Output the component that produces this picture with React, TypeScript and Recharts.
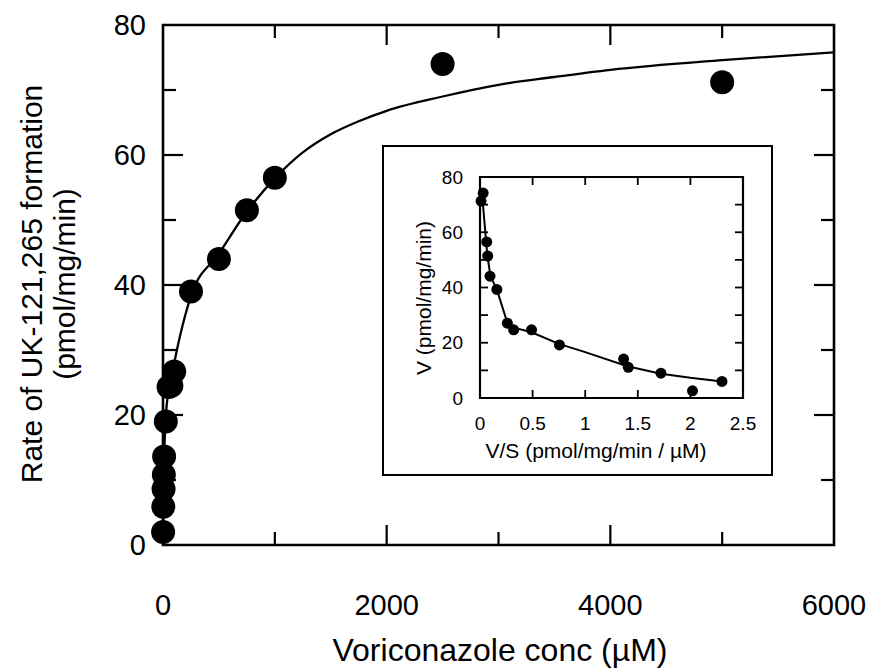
import React from 'react';
import { ComposedChart, Scatter, Line, XAxis, YAxis, ReferenceArea } from 'recharts';

// ---- Main plot data (Voriconazole conc µM vs rate pmol/mg/min) ----
const concValues = [1, 2.5, 5, 7.5, 10, 25, 50, 75, 100, 250, 500, 750, 1000, 2500, 5000];
const rateValues = [2.0, 5.9, 8.6, 10.8, 13.6, 19.0, 24.3, 24.5, 26.7, 39.0, 44.0, 51.5, 56.5, 74.0, 71.2];

// fitted curve
const curveConc = [0, 2.5, 5, 10, 25, 50, 100, 150, 250, 500, 750, 1000, 1250, 1500, 1750, 2000, 2500, 3000, 3500, 4000, 5000, 6000];
const curveRate = [0, 5.5, 8.8, 13.2, 19.6, 23.8, 28.0, 32.0, 38.3, 44.8, 51.3, 56.4, 60.4, 63.2, 65.2, 66.8, 69.0, 70.8, 72.0, 73.1, 74.6, 75.8];

const mainXTicks = [0, 1000, 2000, 3000, 4000, 5000, 6000];
const mainXLabels = [0, 2000, 4000, 6000];
const mainYTicks = [0, 10, 20, 30, 40, 50, 60, 70, 80];
const mainYLabels = [0, 20, 40, 60, 80];

// ---- Inset data (Eadie-Hofstee: V vs V/S) ----
const insetVS = [0.01, 0.03, 0.064, 0.073, 0.095, 0.16, 0.26, 0.32, 0.49, 0.755, 1.365, 1.41, 1.72, 2.02, 2.3];
const insetV = [71.3, 74.2, 56.5, 51.4, 44.1, 39.3, 27.1, 24.7, 24.7, 19.2, 14.1, 11.1, 9.0, 2.6, 6.0];

const insetLineVS = [0.02, 0.07, 0.1, 0.16, 0.26, 0.35, 0.49, 0.75, 1.0, 1.4, 1.72, 2.0, 2.3];
const insetLineV = [73.5, 51.5, 44.0, 39.3, 27.2, 25.2, 23.8, 19.6, 16.6, 11.5, 8.8, 7.3, 6.0];

const insetXTicks = [0, 0.5, 1, 1.5, 2, 2.5];
const insetXLabels = ['0', '0.5', '1', '1.5', '2', '2.5'];
const insetYTicks = [0, 10, 20, 30, 40, 50, 60, 70, 80];
const insetYLabels = [0, 20, 40, 60, 80];

const mainPoints = concValues.map((s, i) => ({ s, v: rateValues[i] }));
const curvePoints = curveConc.map((s, i) => ({ s, v: curveRate[i] }));
const insetPoints = insetVS.map((s, i) => ({ s, v: insetV[i] }));
const insetLinePoints = insetLineVS.map((s, i) => ({ s, v: insetLineV[i] }));

const FONT = '"Liberation Sans", Arial, Helvetica, sans-serif';
const MAIN_TICK_FS = 29;
const MAIN_TITLE_FS = 30;
const X_TITLE_FS = 32;
const INSET_TICK_FS = 19;
const INSET_TITLE_FS = 21;

// layout of the main plot area
const M = { top: 25, right: 37, bottom: 66, left: 103 };
const W = 871;
const H = 671;
const X_AXIS_H = 60;
const Y_AXIS_W = 60;
const PLOT_W = W - M.left - M.right - Y_AXIS_W; // 671
const PLOT_H = H - M.top - M.bottom - X_AXIS_H; // 520

// layout of the inset
const IW = 387;
const IH = 327;
const IM = { top: 30, right: 28, bottom: 36, left: 56 };
const I_X_AXIS_H = 40;
const I_Y_AXIS_W = 40;
const I_PLOT_W = IW - IM.left - IM.right - I_Y_AXIS_W;
const I_PLOT_H = IH - IM.top - IM.bottom - I_X_AXIS_H;

const MAJOR = 20;
const MINOR = 13;
const SW = 2.2;

const mainBottomTick = (p: any) => {
  const v = p.payload.value;
  const major = mainXLabels.includes(v);
  const len = major ? MAJOR : MINOR;
  const inner = v !== 0 && v !== 6000;
  return (
    <g>
      {inner && <line x1={p.x} x2={p.x} y1={p.y} y2={p.y - len} stroke="#000" strokeWidth={SW} />}
      {inner && <line x1={p.x} x2={p.x} y1={p.y - PLOT_H} y2={p.y - PLOT_H + len} stroke="#000" strokeWidth={SW} />}
      {major && (
        <text x={p.x} y={p.y + 60} textAnchor="middle" dominantBaseline="central" fontFamily={FONT} fontSize={MAIN_TICK_FS} fill="#000">
          {v}
        </text>
      )}
    </g>
  );
};
const mainLeftTick = (p: any) => {
  const v = p.payload.value;
  const major = mainYLabels.includes(v);
  const len = major ? MAJOR : MINOR;
  const inner = v !== 0 && v !== 80;
  return (
    <g>
      {inner && <line x1={p.x} x2={p.x + len} y1={p.y} y2={p.y} stroke="#000" strokeWidth={SW} />}
      {inner && <line x1={p.x + PLOT_W} x2={p.x + PLOT_W - len} y1={p.y} y2={p.y} stroke="#000" strokeWidth={SW} />}
      {major && (
        <text x={p.x - 17} y={p.y} textAnchor="end" dominantBaseline="central" fontFamily={FONT} fontSize={MAIN_TICK_FS} fill="#000">
          {v}
        </text>
      )}
    </g>
  );
};

const IT = 8;
const ISW = 1.8;
const insetBottomTick = (p: any) => {
  const v = p.payload.value;
  const idx = insetXTicks.indexOf(v);
  const inner = v !== 0 && v !== 2.5;
  return (
    <g>
      {inner && <line x1={p.x} x2={p.x} y1={p.y} y2={p.y - IT} stroke="#000" strokeWidth={ISW} />}
      {inner && <line x1={p.x} x2={p.x} y1={p.y - I_PLOT_H} y2={p.y - I_PLOT_H + IT} stroke="#000" strokeWidth={ISW} />}
      <text x={p.x} y={p.y + 25} textAnchor="middle" dominantBaseline="central" fontFamily={FONT} fontSize={INSET_TICK_FS} fill="#000">
        {insetXLabels[idx]}
      </text>
    </g>
  );
};
const insetLeftTick = (p: any) => {
  const v = p.payload.value;
  const major = insetYLabels.includes(v);
  const inner = v !== 0 && v !== 80;
  return (
    <g>
      {inner && <line x1={p.x} x2={p.x + IT} y1={p.y} y2={p.y} stroke="#000" strokeWidth={ISW} />}
      {inner && <line x1={p.x + I_PLOT_W} x2={p.x + I_PLOT_W - IT} y1={p.y} y2={p.y} stroke="#000" strokeWidth={ISW} />}
      {major && (
        <text x={p.x - 17} y={p.y} textAnchor="end" dominantBaseline="central" fontFamily={FONT} fontSize={INSET_TICK_FS} fill="#000">
          {v}
        </text>
      )}
    </g>
  );
};

const mainDot = (p: any) => <circle cx={p.cx} cy={p.cy} r={12} fill="#000" />;
const insetDot = (p: any) => <circle cx={p.cx} cy={p.cy} r={5.5} fill="#000" />;

export default function App() {
  return (
    <div style={{ position: 'absolute', left: 0, top: 0, width: W, height: H, background: '#fff', overflow: 'hidden' }}>
      <ComposedChart width={W} height={H} margin={M}>
        <XAxis
          dataKey="s"
          type="number"
          domain={[0, 6000]}
          ticks={mainXTicks}
          height={X_AXIS_H}
          tickSize={0}
          tickMargin={0}
          tickLine={false}
          tick={mainBottomTick}
          axisLine={false}
          interval={0}
        />
        <YAxis
          dataKey="v"
          type="number"
          domain={[0, 80]}
          ticks={mainYTicks}
          width={Y_AXIS_W}
          tickSize={0}
          tickMargin={0}
          tickLine={false}
          tick={mainLeftTick}
          axisLine={false}
          interval={0}
        />
        <ReferenceArea x1={0} x2={6000} y1={0} y2={80} fill="none" stroke="#000" strokeWidth={2.6} ifOverflow="visible" />
        <Line
          data={curvePoints}
          dataKey="v"
          type="monotone"
          stroke="#000"
          strokeWidth={2.3}
          dot={false}
          activeDot={false}
          isAnimationActive={false}
        />
        <Scatter data={mainPoints} dataKey="v" shape={mainDot} isAnimationActive={false} />
      </ComposedChart>

      <svg width={W} height={H} style={{ position: 'absolute', left: 0, top: 0, pointerEvents: 'none' }}>
        <text x={500} y={650} textAnchor="middle" dominantBaseline="central" fontFamily={FONT} fontSize={X_TITLE_FS} fill="#000">
          Voriconazole conc (µM)
        </text>
        <text transform="translate(31,284) rotate(-90)" textAnchor="middle" dominantBaseline="central" fontFamily={FONT} fontSize={MAIN_TITLE_FS} fill="#000">
          Rate of UK-121,265 formation
        </text>
        <text transform="translate(64,284) rotate(-90)" textAnchor="middle" dominantBaseline="central" fontFamily={FONT} fontSize={MAIN_TITLE_FS} fill="#000">
          (pmol/mg/min)
        </text>
      </svg>

      <div
        style={{
          position: 'absolute',
          left: 382,
          top: 145,
          width: IW,
          height: IH,
          border: '2px solid #000',
          background: '#fff',
        }}
      >
        <ComposedChart width={IW} height={IH} margin={IM}>
          <XAxis
            dataKey="s"
            type="number"
            domain={[0, 2.5]}
            ticks={insetXTicks}
            height={I_X_AXIS_H}
            tickSize={0}
            tickMargin={0}
            tickLine={false}
            tick={insetBottomTick}
            axisLine={false}
            interval={0}
          />
          <YAxis
            dataKey="v"
            type="number"
            domain={[0, 80]}
            ticks={insetYTicks}
            width={I_Y_AXIS_W}
            tickSize={0}
            tickMargin={0}
            tickLine={false}
            tick={insetLeftTick}
            axisLine={false}
            interval={0}
          />
          <ReferenceArea x1={0} x2={2.5} y1={0} y2={80} fill="none" stroke="#000" strokeWidth={2.2} ifOverflow="visible" />
          <Line
            data={insetLinePoints}
            dataKey="v"
            type="linear"
            stroke="#000"
            strokeWidth={2}
            dot={false}
            activeDot={false}
            isAnimationActive={false}
          />
          <Scatter data={insetPoints} dataKey="v" shape={insetDot} isAnimationActive={false} />
        </ComposedChart>
        <svg width={IW} height={IH} style={{ position: 'absolute', left: 0, top: 0, pointerEvents: 'none' }}>
          <text x={212} y={303} textAnchor="middle" dominantBaseline="central" fontFamily={FONT} fontSize={INSET_TITLE_FS} fill="#000">
            V/S (pmol/mg/min / µM)
          </text>
          <text transform="translate(39,151) rotate(-90)" textAnchor="middle" dominantBaseline="central" fontFamily={FONT} fontSize={INSET_TITLE_FS} fill="#000">
            V (pmol/mg/min)
          </text>
        </svg>
      </div>
    </div>
  );
}
